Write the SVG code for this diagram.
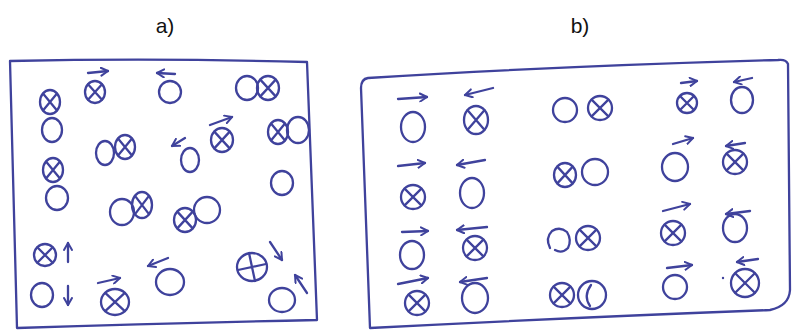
<svg xmlns="http://www.w3.org/2000/svg" width="795" height="330" viewBox="0 0 795 330">
<defs>
<style>
.s{fill:none;stroke:#3f429c;stroke-width:2.3;stroke-linecap:round;stroke-linejoin:round}
.a{fill:none;stroke:#3f429c;stroke-width:2.3;stroke-linecap:round;marker-end:url(#h)}
.t{font-family:"Liberation Sans",Arial,sans-serif;font-size:21px;fill:#111}
</style>
<marker id="h" viewBox="0 0 10 10" refX="8" refY="5" markerWidth="10" markerHeight="10" markerUnits="userSpaceOnUse" orient="auto">
<path d="M1,1 L8,5 L1,9" fill="none" stroke="#3f429c" stroke-width="2" stroke-linecap="round" stroke-linejoin="round"/>
</marker>
</defs>
<rect width="795" height="330" fill="#fff"/>
<text class="t" x="165" y="33" text-anchor="middle">a)</text>
<text class="t" x="580" y="33" text-anchor="middle">b)</text>

<!-- panel a frame -->
<path class="s" d="M10,61 Q160,58 307,62 L317,320 Q170,323 17,328 L10,61"/>
<!-- panel a particles -->
<g id="a-items">
<ellipse class="s" cx="50" cy="102" rx="10" ry="12"/><path class="s" d="M43,93.6 L57,110.4 M57,93.6 L43,110.4"/>
<ellipse class="s" cx="52" cy="130" rx="10" ry="12"/>
<ellipse class="s" cx="95" cy="92" rx="10" ry="11"/><path class="s" d="M88,84.3 L102,99.7 M102,84.3 L88,99.7"/>
<path class="a" d="M88,73 L108,71"/>
<ellipse class="s" cx="105" cy="153" rx="9" ry="12"/>
<ellipse class="s" cx="125" cy="147" rx="10" ry="12"/><path class="s" d="M118,138.6 L132,155.4 M132,138.6 L118,155.4"/>
<ellipse class="s" cx="53" cy="170" rx="10" ry="12"/><path class="s" d="M46,161.6 L60,178.4 M60,161.6 L46,178.4"/>
<ellipse class="s" cx="57" cy="198" rx="11" ry="12"/>
<ellipse class="s" cx="170" cy="92" rx="11" ry="11"/>
<path class="a" d="M175,74 L157,73"/>
<ellipse class="s" cx="247" cy="88" rx="11" ry="12"/>
<ellipse class="s" cx="268" cy="88" rx="11" ry="12"/><path class="s" d="M260.3,79.6 L275.7,96.4 M275.7,79.6 L260.3,96.4"/>
<path class="a" d="M210,125 L232,117"/>
<ellipse class="s" cx="222" cy="140" rx="11" ry="12"/><path class="s" d="M214.3,131.6 L229.7,148.4 M229.7,131.6 L214.3,148.4"/>
<path class="a" d="M185,138 L172,146"/>
<ellipse class="s" cx="190" cy="160" rx="9" ry="12"/>
<ellipse class="s" cx="278" cy="132" rx="10" ry="12"/><path class="s" d="M271,123.6 L285,140.4 M285,123.6 L271,140.4"/>
<ellipse class="s" cx="298" cy="130" rx="11" ry="13"/>
<ellipse class="s" cx="282" cy="183" rx="11" ry="12"/>
<ellipse class="s" cx="122" cy="212" rx="12" ry="13"/>
<ellipse class="s" cx="142" cy="205" rx="10" ry="13"/><path class="s" d="M135,195.9 L149,214.1 M149,195.9 L135,214.1"/>
<ellipse class="s" cx="185" cy="220" rx="11" ry="12"/><path class="s" d="M177.3,211.6 L192.7,228.4 M192.7,211.6 L177.3,228.4"/>
<ellipse class="s" cx="207" cy="210" rx="13" ry="13"/>
<ellipse class="s" cx="45" cy="255" rx="11" ry="11"/><path class="s" d="M37.3,247.3 L52.7,262.7 M52.7,247.3 L37.3,262.7"/>
<path class="a" d="M68,262 L68,243"/>
<ellipse class="s" cx="42" cy="295" rx="11" ry="12"/>
<path class="a" d="M68,286 L68,305"/>
<path class="a" d="M98,283 L120,278"/>
<ellipse class="s" cx="115" cy="302" rx="14" ry="13"/><path class="s" d="M105.2,292.9 L124.8,311.1 M124.8,292.9 L105.2,311.1"/>
<path class="a" d="M168,258 L148,266"/>
<ellipse class="s" cx="170" cy="282" rx="14" ry="13"/>
<ellipse class="s" cx="252" cy="267" rx="15" ry="14"/><path class="s" d="M238,270 L266,264 M249,253 L255,281"/>
<path class="a" d="M270,242 L282,260"/>
<ellipse class="s" cx="282" cy="300" rx="13" ry="12"/>
<path class="a" d="M307,293 L295,275"/>
</g>

<!-- panel b frame -->
<path class="s" d="M368,78 Q361,79 361,88 L370,328 Q560,318 770,310 Q789,306 790,290 L788,64 Q786,59 778,60 Q560,66 368,78"/>
<g id="b-items">
<path class="a" d="M398,99 L427,97"/>
<ellipse class="s" cx="413" cy="127" rx="12" ry="15"/>
<path class="a" d="M493,88 L465,95"/>
<ellipse class="s" cx="476" cy="120" rx="12" ry="14"/><path class="s" d="M467.6,110.2 L484.4,129.8 M484.4,110.2 L467.6,129.8"/>
<ellipse class="s" cx="565" cy="110" rx="12" ry="12"/>
<ellipse class="s" cx="600" cy="108" rx="12" ry="12"/><path class="s" d="M591.6,99.6 L608.4,116.4 M608.4,99.6 L591.6,116.4"/>
<path class="a" d="M681,83 L697,81"/>
<ellipse class="s" cx="687" cy="103" rx="10" ry="10"/><path class="s" d="M680,96 L694,110 M694,96 L680,110"/>
<path class="a" d="M752,78 L734,82"/>
<ellipse class="s" cx="742" cy="100" rx="11" ry="13"/>

<path class="a" d="M398,166 L425,163"/>
<ellipse class="s" cx="413" cy="197" rx="12" ry="12"/><path class="s" d="M404.6,188.6 L421.4,205.4 M421.4,188.6 L404.6,205.4"/>
<path class="a" d="M485,160 L457,165"/>
<ellipse class="s" cx="472" cy="193" rx="12" ry="15"/>
<ellipse class="s" cx="565" cy="175" rx="11" ry="12"/><path class="s" d="M557.3,166.6 L572.7,183.4 M572.7,166.6 L557.3,183.4"/>
<ellipse class="s" cx="595" cy="172" rx="13" ry="13"/>
<path class="a" d="M673,144 L693,138"/>
<ellipse class="s" cx="675" cy="167" rx="13" ry="14"/>
<path class="a" d="M745,143 L726,146"/>
<ellipse class="s" cx="735" cy="162" rx="12" ry="12"/><path class="s" d="M726.6,153.6 L743.4,170.4 M743.4,153.6 L726.6,170.4"/>

<path class="a" d="M402,232 L428,231"/>
<ellipse class="s" cx="412" cy="255" rx="12" ry="14"/>
<path class="a" d="M487,227 L457,230"/>
<ellipse class="s" cx="475" cy="248" rx="12" ry="12"/><path class="s" d="M466.6,239.6 L483.4,256.4 M483.4,239.6 L466.6,256.4"/>
<path class="s" d="M550,248 Q545,238 552,231 Q560,226 567,232 Q572,240 568,248 Q562,254 555,250"/>
<ellipse class="s" cx="588" cy="238" rx="12" ry="12"/><path class="s" d="M579.6,229.6 L596.4,246.4 M596.4,229.6 L579.6,246.4"/>
<path class="a" d="M663,211 L690,204"/>
<ellipse class="s" cx="673" cy="233" rx="12" ry="12"/><path class="s" d="M664.6,224.6 L681.4,241.4 M681.4,224.6 L664.6,241.4"/>
<path class="a" d="M750,211 L726,214"/>
<ellipse class="s" cx="735" cy="228" rx="12" ry="14"/>

<path class="a" d="M398,284 L428,278"/>
<ellipse class="s" cx="417" cy="303" rx="12" ry="12"/><path class="s" d="M408.6,294.6 L425.4,311.4 M425.4,294.6 L408.6,311.4"/>
<path class="a" d="M487,278 L460,282"/>
<ellipse class="s" cx="475" cy="298" rx="13" ry="15"/>
<ellipse class="s" cx="562" cy="295" rx="12" ry="12"/><path class="s" d="M553.6,286.6 L570.4,303.4 M570.4,286.6 L553.6,303.4"/>
<ellipse class="s" cx="592" cy="295" rx="14" ry="14"/><path class="s" d="M591,285 Q583,296 590,306"/>
<path class="a" d="M667,268 L692,265"/>
<ellipse class="s" cx="675" cy="287" rx="12" ry="12"/>
<path class="a" d="M758,259 L737,262"/>
<ellipse class="s" cx="745" cy="283" rx="14" ry="14"/><path class="s" d="M735.2,273.2 L754.8,292.8 M754.8,273.2 L735.2,292.8"/>
<circle cx="723" cy="278" r="1.2" fill="#3f429c"/>
</g>
</svg>
